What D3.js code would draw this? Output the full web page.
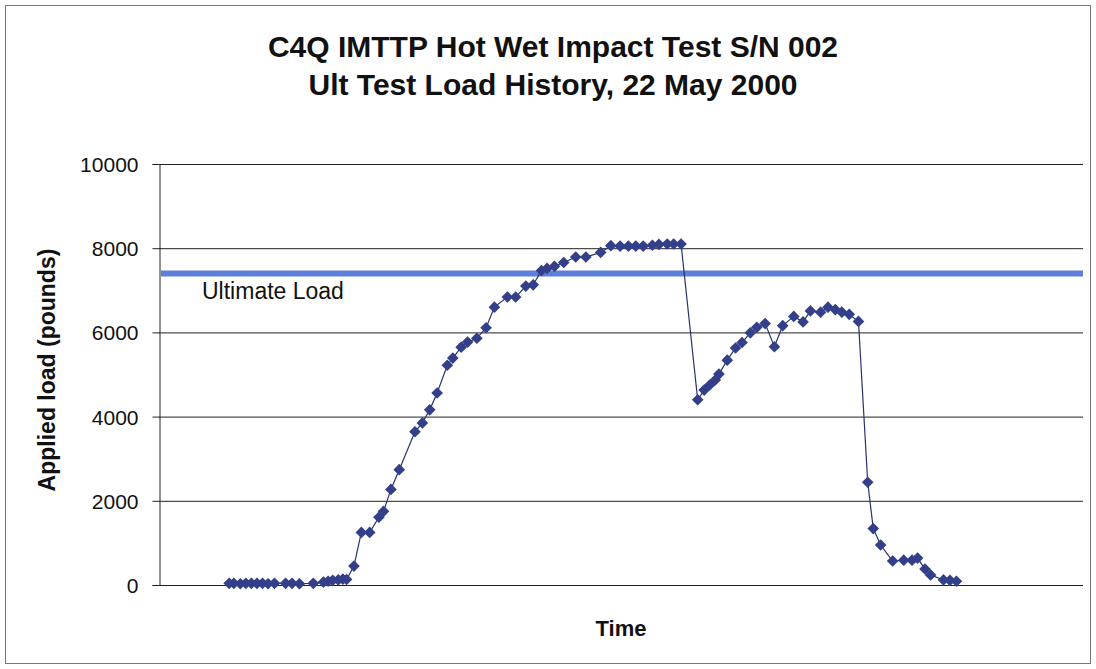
<!DOCTYPE html>
<html>
<head>
<meta charset="utf-8">
<script src="https://cdn.jsdelivr.net/npm/d3@7"></script>
<style>
  body { margin: 0; background: #fff; }
  text { font-family: Arial, "Liberation Sans", sans-serif; fill: #111; }
</style>
</head>
<body>
<div id="chart"></div>
<script>
// time (arbitrary units) and applied load (lbs)
const timeVals = [
  7.6, 8.1, 8.8, 9.4, 10.0, 10.6, 11.2, 11.8, 12.5, 13.7, 14.4, 15.2, 16.7,
  17.8, 18.3, 18.8, 19.4, 19.9, 20.3,
  21.1, 21.9, 22.8, 23.8, 24.3, 25.1, 26.0, 27.7, 28.5, 29.3, 30.1, 31.2, 31.8,
  32.7, 33.4, 34.4, 35.4, 36.3, 37.7, 38.6, 39.7, 40.5, 41.4, 42.0, 42.8, 43.8,
  45.1, 46.2, 47.8, 48.9, 49.9, 50.8, 51.6, 52.4, 53.4, 54.1, 55.0, 55.7, 56.5,
  58.3, 59.0, 59.6, 60.2, 60.6, 61.5, 62.4, 63.1, 64.0, 64.7, 65.6, 66.6, 67.5,
  68.7, 69.7, 70.5, 71.6, 72.4, 73.2, 73.9, 74.7, 75.7,
  76.7, 77.3, 78.1, 79.4, 80.6, 81.5, 82.1, 82.9, 83.5, 84.9, 85.6, 86.3
];
const loadVals = [
  40, 40, 30, 40, 40, 40, 40, 30, 40, 40, 40, 30, 40,
  70, 90, 110, 120, 140, 130,
  450, 1250, 1250, 1610, 1750, 2270, 2740, 3640, 3850, 4160, 4560, 5220, 5390,
  5650, 5770, 5860, 6110, 6600, 6840, 6840, 7100, 7130, 7470, 7520, 7570, 7660,
  7790, 7790, 7900, 8060, 8050, 8050, 8050, 8050, 8070, 8090, 8100, 8100, 8100,
  4400, 4630, 4750, 4870, 5010, 5340, 5630, 5760, 5990, 6120, 6210, 5660, 6160,
  6380, 6250, 6510, 6480, 6600, 6540, 6480, 6430, 6260,
  2440, 1340, 950, 570, 590, 590, 640, 380, 240, 120, 110, 90
];
const yTicks = [0, 2000, 4000, 6000, 8000, 10000];
const ultimateLoad = 7400;
const titleLines = ["C4Q IMTTP Hot Wet Impact Test S/N 002", "Ult Test Load History, 22 May 2000"];

const W = 1096, H = 669;
const margin = {top: 164, right: 13, bottom: 84, left: 159};

const svg = d3.select("#chart").append("svg")
    .attr("width", W).attr("height", H);

// outer chart frame
svg.append("rect")
    .attr("x", 5.5).attr("y", 5.5)
    .attr("width", 1085).attr("height", 658)
    .attr("fill", "none").attr("stroke", "#777").attr("stroke-width", 1);

let x = d3.scaleLinear().domain([0, 100]).range([margin.left, W - margin.right]);
let y = d3.scaleLinear().domain([0, 10000]).range([H - margin.bottom, margin.top]);

// gridlines
svg.append("g").selectAll("line")
    .data(yTicks)
    .join("line")
    .attr("x1", margin.left).attr("x2", W - margin.right)
    .attr("y1", d => y(d) + 0.5).attr("y2", d => y(d) + 0.5)
    .attr("stroke", "#222").attr("stroke-width", 1);

// y axis
let yAxis = svg.append("g")
    .attr("transform", `translate(${margin.left + 0.5},0)`)
    .call(d3.axisLeft(y).tickValues(yTicks).tickSize(7).tickPadding(14).tickFormat(d3.format("d")));
yAxis.select(".domain").attr("stroke", "#222");
yAxis.selectAll(".tick line").attr("stroke", "#222");
yAxis.selectAll(".tick text")
    .style("font-family", "Arial, 'Liberation Sans', sans-serif")
    .style("font-size", "21px").attr("fill", "#111").attr("dy", "0.36em");

// ultimate load line
svg.append("line")
    .attr("x1", margin.left + 2).attr("x2", W - margin.right)
    .attr("y1", y(ultimateLoad)).attr("y2", y(ultimateLoad))
    .attr("stroke", "#5b7fdb").attr("stroke-width", 6);

svg.append("text")
    .attr("x", 202).attr("y", 299)
    .style("font-size", "23px")
    .text("Ultimate Load");

// data line
let pts = timeVals.map((t, i) => [t, loadVals[i]]);
let line = d3.line().x(d => x(d[0])).y(d => y(d[1]));

svg.append("path")
    .datum(pts)
    .attr("fill", "none")
    .attr("stroke", "#27336e")
    .attr("stroke-width", 1.2)
    .attr("d", line);

let diamond = d3.symbol().type(d3.symbolSquare).size(68);
svg.append("g").selectAll("path")
    .data(pts)
    .join("path")
    .attr("transform", d => `translate(${x(d[0])},${y(d[1])}) rotate(45)`)
    .attr("d", diamond)
    .attr("fill", "#343f8a");

// titles
svg.selectAll("text.title")
    .data(titleLines)
    .join("text")
    .attr("class", "title")
    .attr("x", 553)
    .attr("y", (d, i) => 57 + i * 38)
    .attr("text-anchor", "middle")
    .style("font-size", "30px")
    .style("font-weight", "bold")
    .text(d => d);

// axis titles
svg.append("text")
    .attr("x", (margin.left + W - margin.right) / 2)
    .attr("y", 636)
    .attr("text-anchor", "middle")
    .style("font-size", "22px").style("font-weight", "bold")
    .text("Time");

svg.append("text")
    .attr("transform", "translate(55,370) rotate(-90)")
    .attr("text-anchor", "middle")
    .style("font-size", "23px").style("font-weight", "bold")
    .text("Applied load (pounds)");
</script>
</body>
</html>
